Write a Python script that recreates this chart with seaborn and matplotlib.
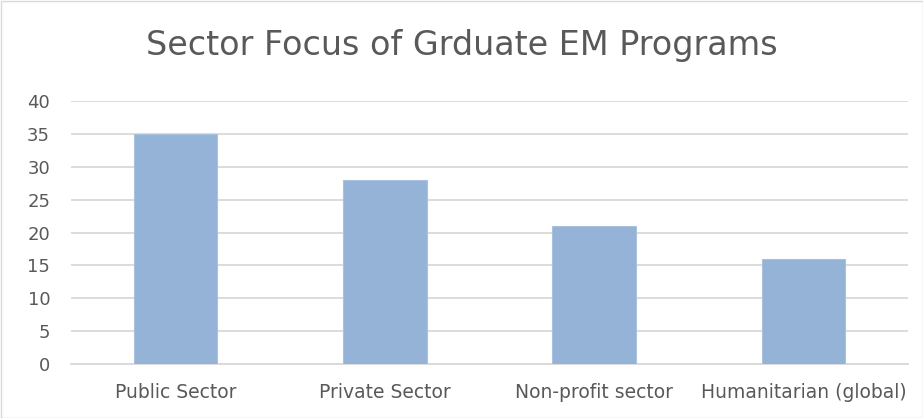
import matplotlib
matplotlib.use("Agg")
import matplotlib.pyplot as plt
import seaborn as sns
import pandas as pd
from matplotlib.patches import Rectangle

categories = ["Public Sector", "Private Sector", "Non-profit sector", "Humanitarian (global)"]
values = [35, 28, 21, 16]
yticks = [0, 5, 10, 15, 20, 25, 30, 35, 40]
title = "Sector Focus of Grduate EM Programs"

sns.set_style("white")
plt.rcParams['font.family'] = ['DejaVu Sans']

df = pd.DataFrame({"category": categories, "value": values})

fig = plt.figure(figsize=(9.23, 4.18), dpi=100)
ax = fig.add_axes([71/923, 1-364/418, (908-71)/923, (364-101)/418])
sns.barplot(data=df, x="category", y="value", color="#95B3D7", saturation=1,
            width=0.4, ax=ax, zorder=3, edgecolor="#A9C2DF", linewidth=0.8)
ax.set_ylim(0, 40)
ax.set_yticks(yticks)
ax.set_xlim(-0.5, len(categories) - 0.5)
ax.yaxis.grid(True, color="#D9D9D9", linewidth=1.3, zorder=0)
ax.set_axisbelow(True)
for s in ["top", "right", "left"]:
    ax.spines[s].set_visible(False)
ax.spines["bottom"].set_color("#D9D9D9")
ax.spines["bottom"].set_linewidth(1.3)
ax.set_xlabel("")
ax.set_ylabel("")
ax.tick_params(axis="both", length=0, colors="#595959")
ax.tick_params(axis="y", pad=15, labelsize=13)
ax.tick_params(axis="x", pad=14, labelsize=13.5)
fig.text(0.5, 1-45/418, title, ha="center", va="center", fontsize=24, color="#595959")
fig.patches.append(Rectangle((0.5/923, 0.5/418), 1-1/923, 1-1/418, transform=fig.transFigure,
                             fill=False, edgecolor="#D9D9D9", linewidth=1))
fig.savefig("out.png", dpi=100)
